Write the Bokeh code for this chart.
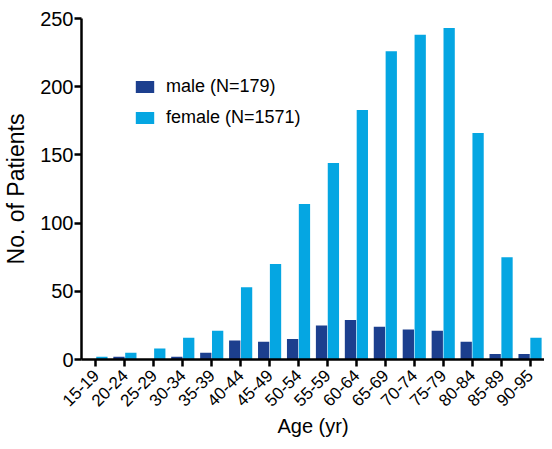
import math
from bokeh.plotting import figure
from bokeh.models import FactorRange, Range1d, Legend, LegendItem, ColumnDataSource
from bokeh.transform import dodge
from bokeh.embed import file_html
from bokeh.resources import INLINE

ages = ["15-19", "20-24", "25-29", "30-34", "35-39", "40-44", "45-49", "50-54",
        "55-59", "60-64", "65-69", "70-74", "75-79", "80-84", "85-89", "90-95"]
male = [0, 2, 0, 2, 5, 14, 13, 15, 25, 29, 24, 22, 21, 13, 4, 4]
female = [2, 5, 8, 16, 21, 53, 70, 114, 144, 183, 226, 238, 243, 166, 75, 16]
y_ticks = [0, 50, 100, 150, 200, 250]

MALE_C = "#1c3f8e"
FEMALE_C = "#05a6e2"
FONT = "Liberation Sans"

src = ColumnDataSource(dict(age=ages, male=male, female=female))

W, H = 544, 447
LEFT, TOP, BOTTOM = 76, 18, 88
p = figure(x_range=FactorRange(factors=ages, range_padding=0),
           y_range=Range1d(0, 250),
           width=W, height=H, output_backend="svg", toolbar_location=None,
           min_border_left=LEFT, min_border_right=0, min_border_top=TOP,
           min_border_bottom=BOTTOM)

rm = p.vbar(x=dodge("age", -0.205, range=p.x_range), top="male", width=0.39,
            source=src, fill_color=MALE_C, line_color=None)
rf = p.vbar(x=dodge("age", 0.205, range=p.x_range), top="female", width=0.39,
            source=src, fill_color=FEMALE_C, line_color=None)

p.xgrid.visible = False
p.ygrid.visible = False
p.outline_line_color = None

for ax in (p.xaxis[0], p.yaxis[0]):
    ax.axis_line_width = 2.5
    ax.axis_line_color = "black"
    ax.major_tick_line_width = 2.5
    ax.major_tick_line_color = "black"
    ax.major_tick_in = 0
    ax.major_tick_out = 7
    ax.minor_tick_line_color = None
    ax.major_label_text_font = FONT
    ax.major_label_text_color = "black"
    ax.axis_label_text_font = FONT
    ax.axis_label_text_font_style = "normal"
    ax.axis_label_text_color = "black"

p.yaxis.ticker = y_ticks
p.yaxis.major_label_text_font_size = "20px"
p.yaxis.axis_label = "No. of Patients"
p.yaxis.axis_label_text_font_size = "23px"
p.yaxis.major_label_standoff = 1
p.yaxis.axis_label_standoff = 8

p.xaxis.major_label_orientation = math.pi / 4
p.xaxis.major_label_text_font_size = "17px"
p.xaxis.major_label_standoff = 6
p.xaxis.axis_label = "Age (yr)"
p.xaxis.axis_label_text_font_size = "20px"
p.xaxis.axis_label_standoff = 0

legend = Legend(items=[LegendItem(label="male (N=179)", renderers=[rm]),
                       LegendItem(label="female (N=1571)", renderers=[rf])],
                location=(52, 231), orientation="vertical",
                glyph_width=23, glyph_height=15, label_height=15,
                label_standoff=10, spacing=10, padding=0, margin=0,
                border_line_color=None, background_fill_alpha=0,
                label_text_font=FONT, label_text_font_size="18px",
                label_text_color="black")
p.add_layout(legend, "center")

open("out.html", "w").write(file_html(p, INLINE))
